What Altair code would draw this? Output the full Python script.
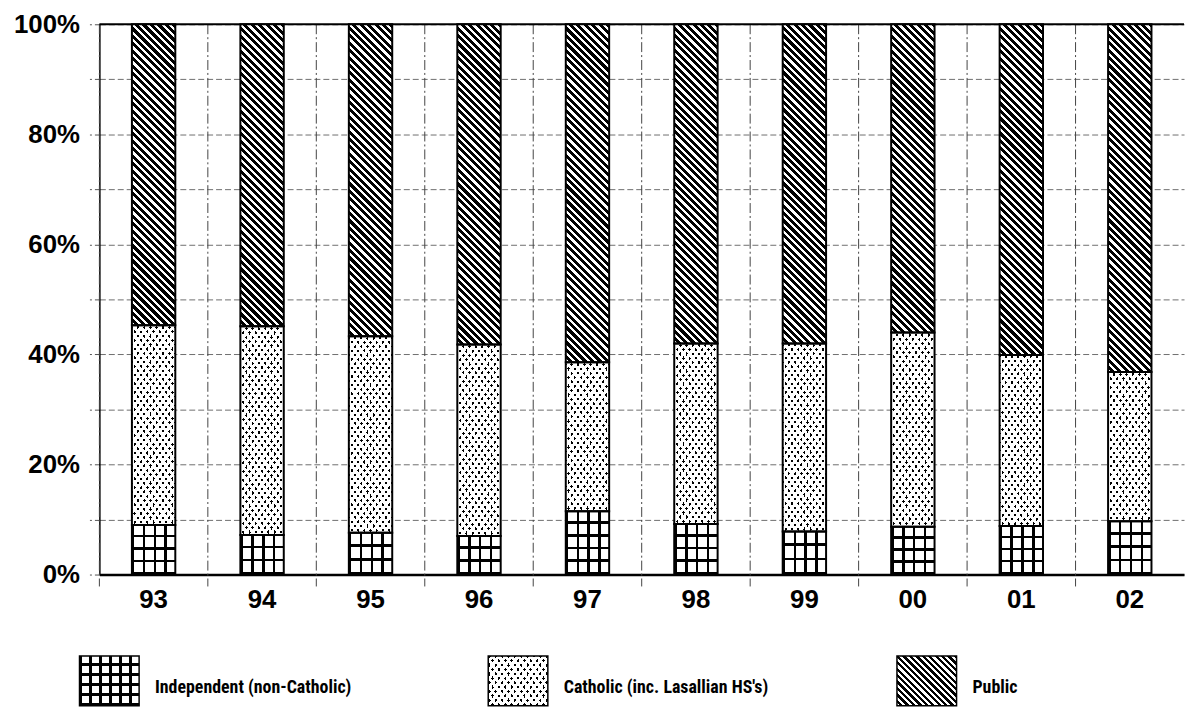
import altair as alt
import pandas as pd

# ---------------- data ----------------
years = ["93", "94", "95", "96", "97", "98", "99", "00", "01", "02"]
independent = [9.0, 7.2, 7.6, 7.0, 11.5, 9.2, 7.8, 8.7, 8.8, 9.7]
catholic = [36.3, 37.9, 35.7, 34.8, 27.1, 32.8, 34.2, 35.3, 31.1, 27.1]
public = [54.7, 54.9, 56.7, 58.2, 61.4, 58.0, 58.0, 56.0, 60.1, 63.2]
categories = ["Independent (non-Catholic)", "Catholic (inc. Lasallian HS's)", "Public"]
y_ticks = [0.0, 0.1, 0.2, 0.3, 0.4, 0.5, 0.6, 0.7, 0.8, 0.9, 1.0]

# ---------------- layout / style constants ----------------
W_PLOT, H_PLOT = 1092, 554
STEP = W_PLOT / len(years)
BAR_W = STEP * 0.4
FONT = "Liberation Sans"
LEG_FONT = "Liberation Sans Narrow, Roboto Condensed, Liberation Sans"
CLEAR = "rgba(0,0,0,0)"

rows = []
for i, yr in enumerate(years):
    s = 0.0
    for cat, vals in zip(categories, [independent, catholic, public]):
        v = vals[i] / 100.0
        rows.append({"year": yr, "cat": cat, "start": s, "end": s + v})
        s += v
df = pd.DataFrame(rows)


def stripes(n, on, on_c, off_c, x1, y1, x2, y2):
    stops = []
    for i in range(n):
        a, b, c = i / n, (i + on) / n, (i + 1) / n
        stops += [{"offset": round(a, 6), "color": on_c}, {"offset": round(b, 6), "color": on_c},
                  {"offset": round(b, 6), "color": off_c}, {"offset": round(c, 6), "color": off_c}]
    return {"gradient": "linear", "x1": x1, "y1": y1, "x2": x2, "y2": y2, "stops": stops}


def diag(w, h, slope, period, on, on_c, off_c, back=True):
    """Diagonal stripes in pixel space for a w x h box.
    back=True  -> '\\' lines (y grows with x), back=False -> '/' lines."""
    k = slope * w / h
    f = (k + 1) / (1 + k * k)
    n = max(1, round((h + slope * w) / (slope * period)))
    if back:
        return stripes(n, on, on_c, off_c, 1, 0, round(1 - k * f, 6), round(f, 6))
    return stripes(n, on, on_c, off_c, 0, 0, round(k * f, 6), round(f, 6))


def dots_base(w, h):
    return diag(w, h, 1.38, 6.3, 0.42, "black", "white", back=False)


def dots_mask(w, h):
    return diag(w, h, 1.38, 6.3, 0.42, CLEAR, "white", back=True)


xscale = alt.Scale(paddingInner=0.6, paddingOuter=0.3)
yscale = alt.Scale(domain=[0, 1], nice=False)

x_axis = alt.Axis(title=None, labelFont=FONT, labelFontSize=26, labelFontWeight="bold",
                  labelColor="black", labelPadding=12, labelAngle=0, ticks=False,
                  domainColor="black", domainWidth=2.5, grid=False)
y_axis = alt.Axis(title=None, values=y_ticks, format=".0%",
                  labelExpr="round(datum.value * 10) % 2 == 0 ? datum.label : ''",
                  labelFont=FONT, labelFontSize=26, labelFontWeight="bold", labelColor="black",
                  labelPadding=10, tickSize=10, tickColor="#555", tickDash=[5, 3], tickWidth=1,
                  grid=True, gridColor="#555", gridDash=[6, 3], gridWidth=1, gridOpacity=0.85,
                  domainColor="black", domainWidth=1.5)

X = alt.X("year:N", sort=years, scale=xscale, axis=x_axis)
Y = alt.Y("start:Q", scale=yscale, axis=y_axis)
Y2 = alt.Y2("end:Q")

base = alt.Chart(df)
layers = []

# vertical dash-dot gridlines between the bars
vrules = alt.Chart(pd.DataFrame({"year": years})).mark_rule(
    color="#444", strokeWidth=1, strokeDash=[10, 3, 2, 3], xOffset=-STEP / 2).encode(
    x=X, y=alt.value(0), y2=alt.value(H_PLOT + 12))

# top frame line
top_rule = alt.Chart(pd.DataFrame({"start": [1.0]})).mark_rule(color="black", strokeWidth=2).encode(y=Y)

layers += [vrules, top_rule]

# Independent: grid pattern base (vertical lines)
layers.append(base.transform_filter(alt.datum.cat == categories[0]).mark_bar(
    fill=stripes(4, 0.23, "black", "white", 0, 0, 1, 0)).encode(x=X, y=Y, y2=Y2))

for i, yr in enumerate(years):
    h_ind = independent[i] / 100 * H_PLOT
    h_cat = catholic[i] / 100 * H_PLOT
    h_pub = public[i] / 100 * H_PLOT
    n_ind = max(1, round(h_ind / 12.5))
    sel = lambda c: (alt.datum.year == yr) & (alt.datum.cat == c)
    # Independent: horizontal grid lines overlay
    layers.append(base.transform_filter(sel(categories[0])).mark_bar(
        fill=stripes(n_ind, min(0.9, 2.5 / (h_ind / n_ind)), "black", CLEAR, 0, 1, 0, 0)).encode(x=X, y=Y, y2=Y2))
    # Catholic: staggered dots = '/' stripes masked by '\' stripes
    layers.append(base.transform_filter(sel(categories[1])).mark_bar(
        fill=dots_base(BAR_W, h_cat)).encode(x=X, y=Y, y2=Y2))
    layers.append(base.transform_filter(sel(categories[1])).mark_bar(
        fill=dots_mask(BAR_W, h_cat)).encode(x=X, y=Y, y2=Y2))
    # Public: diagonal hatch
    layers.append(base.transform_filter(sel(categories[2])).mark_bar(
        fill=diag(BAR_W, h_pub, 1.0, 7.5, 0.55, "black", "white", back=True)).encode(x=X, y=Y, y2=Y2))

# outline on top of the patterns
layers.append(base.mark_bar(fillOpacity=0, stroke="black", strokeWidth=2).encode(x=X, y=Y, y2=Y2))

main = alt.layer(*layers).properties(width=W_PLOT, height=H_PLOT)

# ---------------- legend ----------------
leg_df = pd.DataFrame({"cat": categories})
LEG_W, LEG_H = 60, 50
LX = alt.X("cat:N", sort=categories, scale=alt.Scale(type="point", range=[10, 833], padding=0), axis=None)
lbase = alt.Chart(leg_df)
leg_layers = []
leg_fills = [
    [stripes(6, 0.25, "black", "white", 0, 0, 1, 0), stripes(5, 0.25, "black", CLEAR, 0, 1, 0, 0)],
    [dots_base(LEG_W, LEG_H), dots_mask(LEG_W, LEG_H)],
    [diag(LEG_W, LEG_H, 1.0, 6.5, 0.5, "black", "white", back=True)],
]
for cat, fills in zip(categories, leg_fills):
    for f in fills:
        leg_layers.append(lbase.transform_filter(alt.datum.cat == cat).mark_bar(width=LEG_W, fill=f).encode(
            x=LX, y=alt.value(0), y2=alt.value(LEG_H)))
leg_layers.append(lbase.mark_bar(width=LEG_W, fillOpacity=0, stroke="black", strokeWidth=1.5).encode(
    x=LX, y=alt.value(0), y2=alt.value(LEG_H)))
leg_layers.append(lbase.mark_text(align="left", baseline="middle", dx=46, font=LEG_FONT, fontSize=18,
                                  fontWeight="bold", color="black").encode(
    x=LX, y=alt.value(32), text="cat:N"))
legend = alt.layer(*leg_layers).properties(width=W_PLOT, height=LEG_H)

chart = alt.vconcat(main, legend, spacing=41).properties(
    padding={"left": 5, "top": 0, "right": 0, "bottom": 0},
    background="white",
).configure_view(stroke="transparent")

chart.save("out.html", embed_options={"renderer": "svg", "actions": False})
